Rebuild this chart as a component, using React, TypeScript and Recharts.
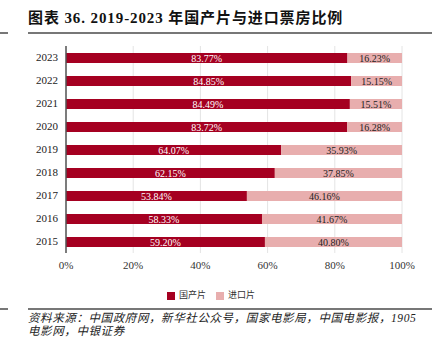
import React from "react";
import {
  BarChart,
  Bar,
  XAxis,
  YAxis,
  CartesianGrid,
  Legend,
  LabelList,
} from "recharts";

const years = ["2023", "2022", "2021", "2020", "2019", "2018", "2017", "2016", "2015"];
const domestic = [83.77, 84.85, 84.49, 83.72, 64.07, 62.15, 53.84, 58.33, 59.2];
const imported = [16.23, 15.15, 15.51, 16.28, 35.93, 37.85, 46.16, 41.67, 40.8];
const xTicks = [0, 20, 40, 60, 80, 100];

const RED = "#A50021";
const PINK = "#E8AEAE";
const SERIF = '"Liberation Serif", "Noto Sans CJK SC", serif';

const chartData = years.map((y, i) => ({
  year: y,
  domestic: domestic[i],
  imported: imported[i],
}));

const fmt = (v: number) => `${Number(v).toFixed(2)}%`;

export default function App() {
  return (
    <div
      style={{
        position: "absolute",
        left: 0,
        top: 0,
        width: 432,
        height: 338,
        overflow: "hidden",
        background: "#fff",
        fontFamily: SERIF,
      }}
    >
      <div
        style={{
          position: "absolute",
          left: 28,
          top: 6,
          fontSize: 15,
          fontWeight: "bold",
          color: "#111",
          whiteSpace: "nowrap",
          letterSpacing: 0.9,
        }}
      >
        图表 36. 2019-2023 年国产片与进口票房比例
      </div>
      <div style={{ position: "absolute", left: 0, top: 32, width: 8, height: 1.5, background: "#777" }} />
      <div style={{ position: "absolute", left: 28, top: 32, width: 404, height: 1.5, background: "#777" }} />

      <BarChart
        width={432}
        height={310}
        data={chartData}
        layout="vertical"
        margin={{ top: 46, right: 30, bottom: 0, left: 0 }}
        barSize={10}
        style={{ position: "absolute", left: 0, top: 0 }}
      >
        <CartesianGrid horizontal={false} stroke="#e4e4e4" />
        <XAxis
          type="number"
          domain={[0, 100]}
          ticks={xTicks}
          tickFormatter={(v) => `${v}%`}
          axisLine={false}
          tickLine={false}
          height={44}
          tick={{ fontSize: 11, fill: "#333", fontFamily: SERIF }}
        />
        <YAxis
          type="category"
          dataKey="year"
          width={66}
          axisLine={{ stroke: "#555", strokeWidth: 1.5 }}
          tickLine={false}
          tick={{ fontSize: 11, fill: "#222", fontFamily: SERIF }}
        />
        <Legend
          verticalAlign="bottom"
          align="center"
          iconType="square"
          iconSize={8}
          wrapperStyle={{ top: 288, left: 0, width: 432, fontSize: 9, fontFamily: SERIF }}
          formatter={(value) => <span style={{ color: "#333" }}>{value}</span>}
        />
        <Bar dataKey="domestic" name="国产片" stackId="a" fill={RED} isAnimationActive={false}>
          <LabelList dataKey="domestic" position="center" fill="#fff" fontSize={10} fontFamily={SERIF} formatter={fmt} />
        </Bar>
        <Bar dataKey="imported" name="进口片" stackId="a" fill={PINK} isAnimationActive={false}>
          <LabelList dataKey="imported" position="center" fill="#222" fontSize={10} fontFamily={SERIF} formatter={fmt} />
        </Bar>
      </BarChart>

      <div style={{ position: "absolute", left: 0, top: 308, width: 8, height: 1.5, background: "#777" }} />
      <div style={{ position: "absolute", left: 28, top: 308, width: 404, height: 1.5, background: "#777" }} />
      <div
        style={{
          position: "absolute",
          left: 28,
          top: 312,
          fontSize: 11.5,
          fontStyle: "italic",
          color: "#222",
          whiteSpace: "nowrap",
          lineHeight: "13px",
          letterSpacing: 0.6,
        }}
      >
        资料来源：中国政府网，新华社公众号，国家电影局，中国电影报，1905
        <br />
        电影网，中银证券
      </div>
    </div>
  );
}
